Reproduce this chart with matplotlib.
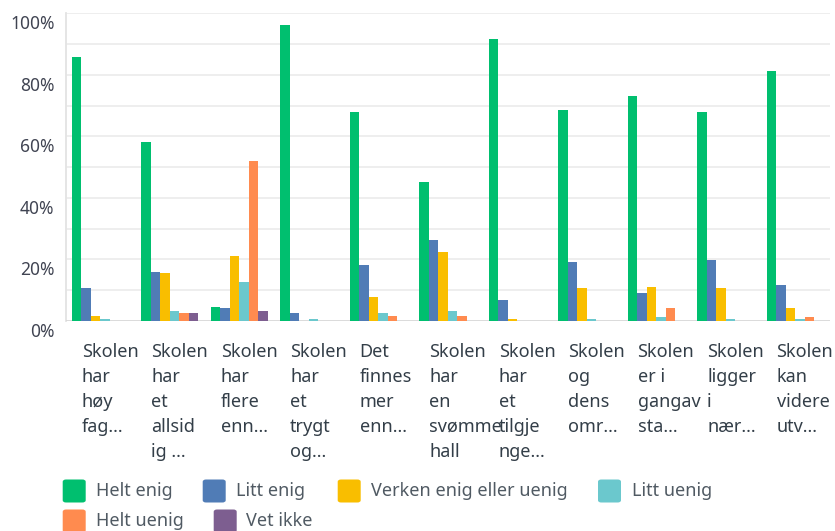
import numpy as np
import matplotlib.pyplot as plt
from matplotlib.patches import FancyBboxPatch
from matplotlib.transforms import ScaledTranslation, blended_transform_factory

plt.rcParams['font.family'] = ['Noto Sans', 'DejaVu Sans']

# categories (wrapped as in the survey chart)
categories = [
    "Skolen\nhar\nhøy\nfag...",
    "Skolen\nhar\net\nallsid\nig ...",
    "Skolen\nhar\nflere\nenn...",
    "Skolen\nhar\net\ntrygt\nog...",
    "Det\nfinnes\nmer\nenn...",
    "Skolen\nhar\nen\nsvømme\nhall",
    "Skolen\nhar\net\ntilgje\nnge...",
    "Skolen\nog\ndens\nomr...",
    "Skolen\ner i\ngangav\nsta...",
    "Skolen\nligger\ni\nnær...",
    "Skolen\nkan\nvidere\nutv...",
]

series_names = ["Helt enig", "Litt enig", "Verken enig eller uenig",
                "Litt uenig", "Helt uenig", "Vet ikke"]
series_colors = ["#00BF6F", "#507CB6", "#F9BE00", "#6BC8CD", "#FF8B4F", "#7D5E90"]

helt_enig = [85.7, 58.1, 4.5, 96.2, 67.9, 45.3, 91.6, 68.6, 73.1, 67.9, 81.2]
litt_enig = [10.8, 16.0, 4.1, 2.5, 18.3, 26.3, 6.8, 19.3, 9.1, 19.7, 11.7]
verken = [1.6, 15.6, 21.2, 0.0, 7.8, 22.3, 0.6, 10.7, 11.0, 10.7, 4.2]
litt_uenig = [0.6, 3.1, 12.7, 0.6, 2.5, 3.2, 0.0, 0.6, 1.2, 0.6, 0.6]
helt_uenig = [0.0, 2.5, 52.1, 0.0, 1.6, 1.6, 0.0, 0.0, 4.2, 0.0, 1.3]
vet_ikke = [0.0, 2.5, 3.1, 0.0, 0.0, 0.0, 0.0, 0.0, 0.0, 0.0, 0.0]
series = [helt_enig, litt_enig, verken, litt_uenig, helt_uenig, vet_ikke]

fig = plt.figure(figsize=(8.35, 5.31), dpi=100)
W, H = 835, 531
ax = fig.add_axes([65.7 / W, 1 - 321 / H, (830 - 65.7) / W, (321 - 13.3) / H])

x = np.arange(len(categories))
bw = 0.137
for j, (vals, col) in enumerate(zip(series, series_colors)):
    ax.bar(x + (j - 2.5) * bw, vals, width=bw, color=col, zorder=5)

ax.set_xlim(-0.5, len(categories) - 0.5)
ax.set_ylim(0, 100)
ax.set_yticks(np.arange(0, 101, 10))
ax.set_yticklabels([f"{v}%" if v % 20 == 0 else "" for v in range(0, 101, 10)],
                   fontsize=12.5, color="#404452")
ax.tick_params(axis="y", length=0, pad=8)
ax.set_xticks([])
ax.grid(axis="y", color="#EDEDED", linewidth=1.3, zorder=0)
for side in ["top", "right", "bottom"]:
    ax.spines[side].set_visible(False)
ax.spines["left"].set_color("#E3E3E3")
ax.spines["left"].set_linewidth(1.3)
ax.axhline(0, color="#D5D5D5", linewidth=1.8, zorder=4)

# survey-style labels sit a bit below their gridline
for lab in ax.get_yticklabels():
    lab.set_transform(lab.get_transform() + ScaledTranslation(0, -9 / 100, fig.dpi_scale_trans))

trans = blended_transform_factory(ax.transData, fig.transFigure)
for i, cat in enumerate(categories):
    ax.text(i - 0.5 + 16 / 69.5, 1 - 343 / H, cat, transform=trans, ha="left", va="top",
            fontsize=13, color="#333E48", linespacing=1.50)

# legend, laid out in flow rows like the original
legend_items = [
    (0, 62.7, 96), (1, 202.7, 236), (2, 337.7, 371), (3, 598, 632),
    (4, 62.7, 96), (5, 213.7, 246),
]
for k, (j, sx, tx) in enumerate(legend_items):
    cy = 491 if k < 4 else 521
    fig.patches.append(FancyBboxPatch(
        (sx / W, 1 - (cy + 11.5) / H), 23 / W, 23 / H,
        boxstyle="round,pad=0,rounding_size=0.004",
        transform=fig.transFigure, facecolor=series_colors[j], edgecolor="none"))
    fig.text(tx / W, 1 - cy / H, series_names[j], ha="left", va="center",
             fontsize=13, color="#505A63")

fig.savefig("out.png", dpi=100)
